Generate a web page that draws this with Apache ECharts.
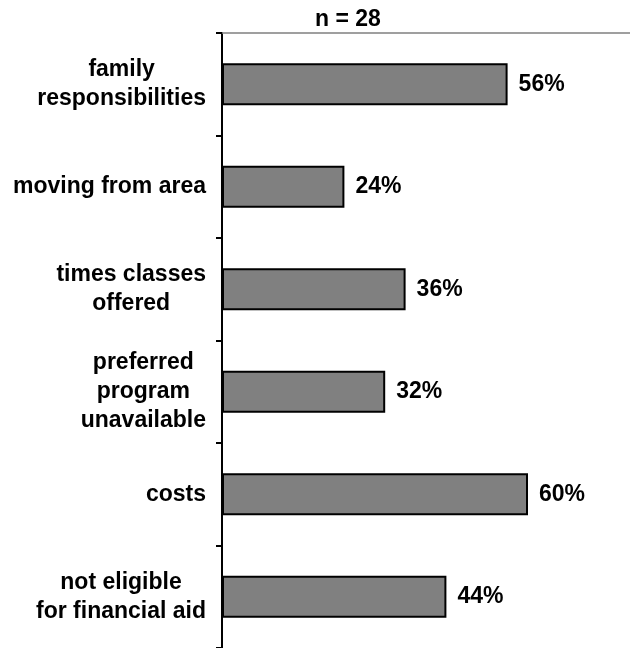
<!DOCTYPE html>
<html>
<head>
<meta charset="utf-8">
<script src="https://cdn.jsdelivr.net/npm/echarts@6/dist/echarts.min.js"></script>
<style>
html,body{margin:0;padding:0;background:#fff;}
#chart{width:630px;height:648px;}
</style>
</head>
<body>
<div id="chart"></div>
<script>
const categories = [
  'family\nresponsibilities',
  'moving from area',
  'times classes\noffered',
  'preferred\nprogram\nunavailable',
  'costs',
  'not eligible\nfor financial aid'
];
const values = [56, 24, 36, 32, 60, 44];
const subtitleText = 'n = 28';

const FONT = '"Liberation Sans", Arial, Helvetica, sans-serif';
const chart = echarts.init(document.getElementById('chart'), null, {renderer: 'canvas'});
chart.setOption({
  animation: false,
  backgroundColor: '#ffffff',
  graphic: [{
    type: 'text',
    left: 315,
    top: 8,
    style: {
      text: subtitleText,
      font: 'bold 23px ' + FONT,
      fill: '#000'
    }
  }],
  grid: {left: 222, top: 33, width: 413, height: 620, containLabel: false},
  xAxis: {
    type: 'value',
    position: 'top',
    min: 0,
    max: 80,
    axisLine: {show: true, lineStyle: {color: '#808080', width: 1.5}},
    axisTick: {show: false},
    axisLabel: {show: false},
    splitLine: {show: false}
  },
  yAxis: {
    type: 'category',
    inverse: true,
    data: categories,
    axisLine: {show: true, lineStyle: {color: '#000', width: 2}},
    axisTick: {show: true, length: 6, lineStyle: {color: '#000', width: 2}},
    axisLabel: {
      margin: 16,
      align: 'right',
      formatter: function (v) {
        return v.split('\n').map(function (l) { return '{c|' + l + '}'; }).join('\n');
      },
      rich: {
        c: {
          align: 'center',
          fontFamily: FONT,
          fontWeight: 'bold',
          fontSize: 23,
          lineHeight: 29,
          color: '#000'
        }
      }
    }
  },
  series: [{
    type: 'bar',
    data: values,
    barWidth: 42,
    itemStyle: {color: '#808080', borderColor: '#000', borderWidth: 2},
    label: {
      show: true,
      position: 'right',
      distance: 11,
      formatter: '{c}%',
      fontFamily: FONT,
      fontWeight: 'bold',
      fontSize: 23,
      color: '#000'
    }
  }]
});
</script>
</body>
</html>
